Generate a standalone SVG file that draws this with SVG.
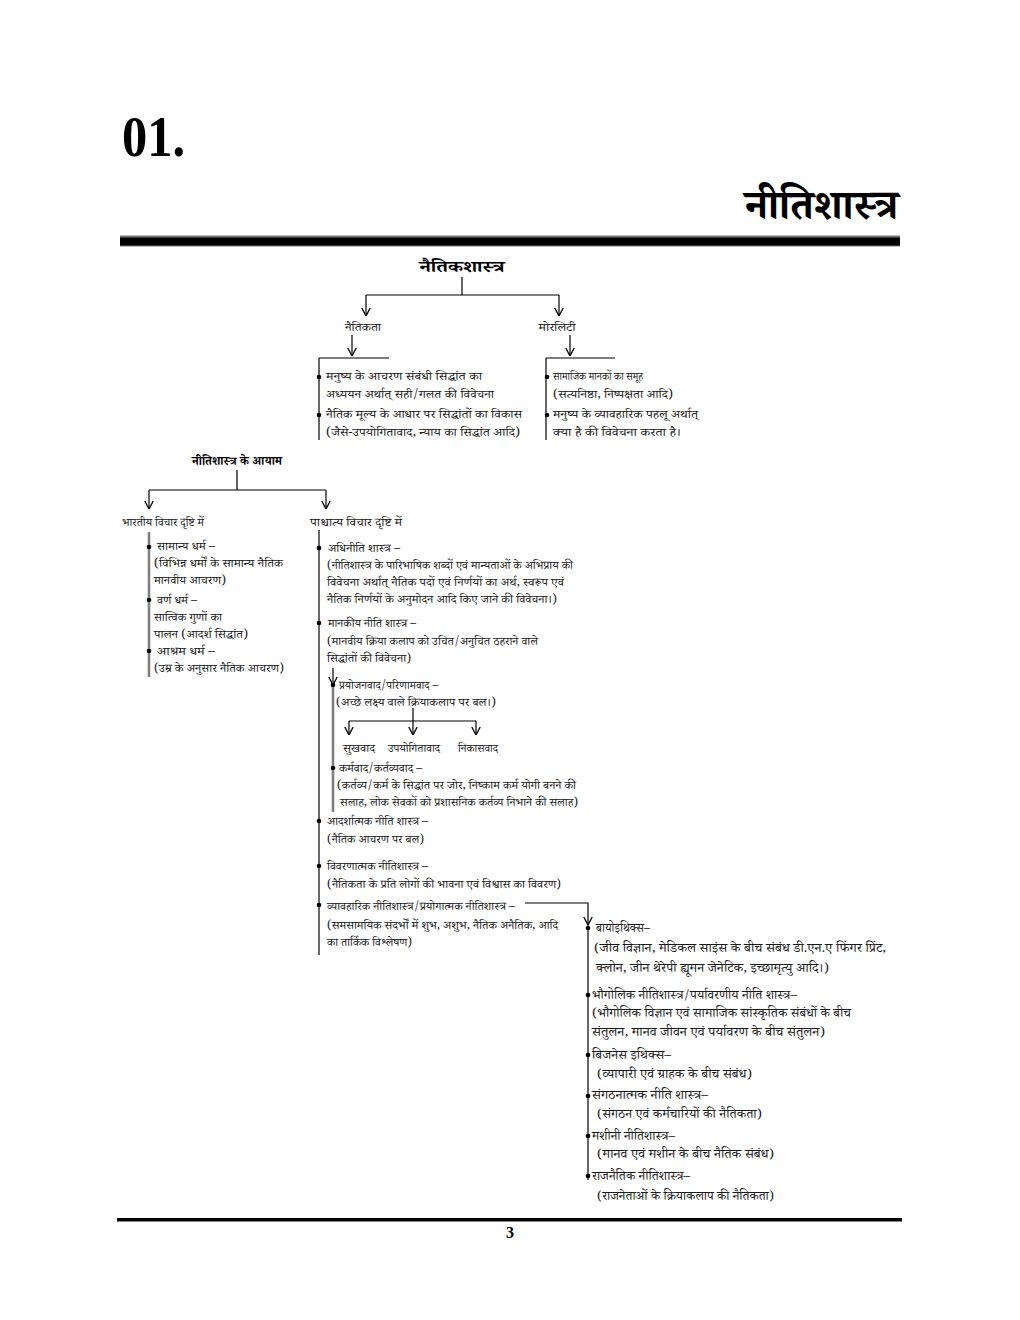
<svg xmlns="http://www.w3.org/2000/svg" width="1020" height="1320" viewBox="0 0 1020 1320">
<style>
.d{font-family:"Noto Serif Devanagari","Noto Sans Devanagari","Lohit Devanagari","Noto Sans",sans-serif;font-size:11.8px;fill:#1a1a1a}
.r{font-size:13px}
.b{font-weight:bold;fill:#000}
.c{text-anchor:middle}
.ln{stroke:#000;stroke-width:1.2;fill:none}
.gl{stroke:#808080;stroke-width:2.6;fill:none}
.bu{fill:#000}
</style>
<defs>
<marker id="ar" viewBox="0 0 10 10" refX="10" refY="5" markerWidth="10" markerHeight="10" markerUnits="userSpaceOnUse" orient="auto">
<path d="M2,0.8 L10,5 L2,9.2" fill="none" stroke="#000" stroke-width="1.3"/>
</marker>
</defs>
<rect width="1020" height="1320" fill="#fff"/>
<g id="header">
<text x="122" y="156" font-family="Liberation Serif,serif" font-weight="bold" font-size="56" textLength="63" lengthAdjust="spacingAndGlyphs">01.</text>
<text class="d b" x="898" y="219" text-anchor="end" textLength="153" lengthAdjust="spacingAndGlyphs" style="font-size:42px">नीतिशास्त्र</text>
<rect x="120" y="235.5" width="780" height="11" fill="#777"/>
<rect x="120" y="237.5" width="780" height="8" fill="#000"/>
</g>
<g id="connectors">
<path class="ln" d="M462,277 V295 M366,295 H559"/>
<path class="ln" d="M366,295 V316" marker-end="url(#ar)"/>
<path class="ln" d="M559,295 V316" marker-end="url(#ar)"/>
<path class="ln" d="M352,335 V356" marker-end="url(#ar)"/>
<path class="ln" d="M570,335 V356" marker-end="url(#ar)"/>
<path class="ln" d="M319,358 H389 M319,358 V440 M546,358 H615 M546,358 V440"/>
<path class="ln" d="M237,470 V490 M149,490 H326"/>
<path class="ln" d="M149,490 V509" marker-end="url(#ar)"/>
<path class="ln" d="M326,490 V509" marker-end="url(#ar)"/>
<path class="gl" d="M149,532 V677"/>
<path class="ln" d="M319,530 V955"/>
<path class="ln" d="M333,668 V685" marker-end="url(#ar)"/>
<path class="gl" d="M333,686 V812"/>
<path class="ln" d="M349,721 H476"/>
<path class="ln" d="M413,708 V735" marker-end="url(#ar)"/>
<path class="ln" d="M349,721 V735" marker-end="url(#ar)"/>
<path class="ln" d="M476,721 V735" marker-end="url(#ar)"/>
<path class="ln" d="M525,903 H588 V925" marker-end="url(#ar)"/>
<path class="ln" d="M588,925 V1180"/>
</g>
<g id="n-root"><text class="d b c" x="462" y="272" style="font-size:16px" textLength="85" lengthAdjust="spacingAndGlyphs">नैतिकशास्त्र</text></g>
<g id="n-naitikta"><text class="d c" x="363" y="331" textLength="36" lengthAdjust="spacingAndGlyphs">नैतिकता</text></g>
<g id="n-morality"><text class="d c" x="557" y="331" textLength="37" lengthAdjust="spacingAndGlyphs">मोरलिटी</text></g>
<g id="n-naitikta-desc">
<circle class="bu" cx="319" cy="377" r="2.3"/><circle class="bu" cx="319" cy="415" r="2.3"/>
<text class="d" x="326" y="380" textLength="156" lengthAdjust="spacingAndGlyphs">मनुष्य के आचरण संबंधी सिद्धांत का</text>
<text class="d" x="326" y="398" textLength="168" lengthAdjust="spacingAndGlyphs">अध्ययन अर्थात् सही/गलत की विवेचना</text>
<text class="d" x="326" y="418" textLength="196" lengthAdjust="spacingAndGlyphs">नैतिक मूल्य के आधार पर सिद्धांतों का विकास</text>
<text class="d" x="326" y="436" textLength="194" lengthAdjust="spacingAndGlyphs">(जैसे-उपयोगितावाद, न्याय का सिद्धांत आदि)</text>
</g>
<g id="n-morality-desc">
<circle class="bu" cx="547" cy="377" r="2.3"/><circle class="bu" cx="547" cy="415" r="2.3"/>
<text class="d" x="553" y="380" textLength="90" lengthAdjust="spacingAndGlyphs">सामाजिक मानकों का समूह</text>
<text class="d" x="553" y="398" textLength="120" lengthAdjust="spacingAndGlyphs">(सत्यनिष्ठा, निष्पक्षता आदि)</text>
<text class="d" x="553" y="418" textLength="145" lengthAdjust="spacingAndGlyphs">मनुष्य के व्यावहारिक पहलू अर्थात्</text>
<text class="d" x="553" y="436" textLength="128" lengthAdjust="spacingAndGlyphs">क्या है की विवेचना करता है।</text>
</g>
<g id="n-aayam"><text class="d b c" x="237" y="465" textLength="90" lengthAdjust="spacingAndGlyphs">नीतिशास्त्र के आयाम</text></g>
<g id="n-bhartiya">
<text class="d" x="122" y="526" textLength="82" lengthAdjust="spacingAndGlyphs">भारतीय विचार दृष्टि में</text>
<circle class="bu" cx="149" cy="547" r="2.3"/><circle class="bu" cx="149" cy="600" r="2.3"/><circle class="bu" cx="149" cy="651" r="2.3"/>
<text class="d" x="157" y="550" textLength="58" lengthAdjust="spacingAndGlyphs">सामान्य धर्म –</text>
<text class="d" x="154" y="567" textLength="129" lengthAdjust="spacingAndGlyphs">(विभिन्न धर्मों के सामान्य नैतिक</text>
<text class="d" x="154" y="584" textLength="72" lengthAdjust="spacingAndGlyphs">मानवीय आचरण)</text>
<text class="d" x="157" y="604" textLength="40" lengthAdjust="spacingAndGlyphs">वर्ण धर्म –</text>
<text class="d" x="154" y="621" textLength="68" lengthAdjust="spacingAndGlyphs">सात्विक गुणों का</text>
<text class="d" x="154" y="638" textLength="94" lengthAdjust="spacingAndGlyphs">पालन (आदर्श सिद्धांत)</text>
<text class="d" x="157" y="655" textLength="58" lengthAdjust="spacingAndGlyphs">आश्रम धर्म –</text>
<text class="d" x="154" y="672" textLength="130" lengthAdjust="spacingAndGlyphs">(उम्र के अनुसार नैतिक आचरण)</text>
</g>
<g id="n-pashchatya">
<text class="d" x="310" y="526" textLength="92" lengthAdjust="spacingAndGlyphs">पाश्चात्य विचार दृष्टि में</text>
</g>
<g id="n-adhiniti">
<circle class="bu" cx="319" cy="548" r="2.3"/>
<text class="d" x="328" y="552" textLength="72" lengthAdjust="spacingAndGlyphs">अधिनीति शास्त्र –</text>
<text class="d" x="327" y="569" textLength="246" lengthAdjust="spacingAndGlyphs">(नीतिशास्त्र के पारिभाषिक शब्दों एवं मान्यताओं के अभिप्राय की</text>
<text class="d" x="327" y="586" textLength="237" lengthAdjust="spacingAndGlyphs">विवेचना अर्थात् नैतिक पदों एवं निर्णयों का अर्थ, स्वरूप एवं</text>
<text class="d" x="327" y="603" textLength="230" lengthAdjust="spacingAndGlyphs">नैतिक निर्णयों के अनुमोदन आदि किए जाने की विवेचना।)</text>
</g>
<g id="n-maankiya">
<circle class="bu" cx="319" cy="623" r="2.3"/>
<text class="d" x="328" y="627" textLength="88" lengthAdjust="spacingAndGlyphs">मानकीय नीति शास्त्र –</text>
<text class="d" x="327" y="645" textLength="211" lengthAdjust="spacingAndGlyphs">(मानवीय क्रिया कलाप को उचित/अनुचित ठहराने वाले</text>
<text class="d" x="327" y="662" textLength="84" lengthAdjust="spacingAndGlyphs">सिद्धांतों की विवेचना)</text>
</g>
<g id="n-prayojanvad">
<circle class="bu" cx="333" cy="685" r="2.3"/>
<text class="d" x="339" y="689" textLength="99" lengthAdjust="spacingAndGlyphs">प्रयोजनवाद/परिणामवाद –</text>
<text class="d" x="336" y="706" textLength="160" lengthAdjust="spacingAndGlyphs">(अच्छे लक्ष्य वाले क्रियाकलाप पर बल।)</text>
</g>
<g id="n-sukhvad"><text class="d c" x="359" y="752" textLength="32" lengthAdjust="spacingAndGlyphs">सुखवाद</text></g>
<g id="n-upyogitavad"><text class="d c" x="414" y="752" textLength="52" lengthAdjust="spacingAndGlyphs">उपयोगितावाद</text></g>
<g id="n-nikasvad"><text class="d c" x="478" y="752" textLength="40" lengthAdjust="spacingAndGlyphs">निकासवाद</text></g>
<g id="n-karmvad">
<circle class="bu" cx="333" cy="768" r="2.3"/>
<text class="d" x="339" y="772" textLength="83" lengthAdjust="spacingAndGlyphs">कर्मवाद/कर्तव्यवाद –</text>
<text class="d" x="337" y="789" textLength="239" lengthAdjust="spacingAndGlyphs">(कर्तव्य/कर्म के सिद्धांत पर जोर, निष्काम कर्म योगी बनने की</text>
<text class="d" x="340" y="806" textLength="238" lengthAdjust="spacingAndGlyphs">सलाह, लोक सेवकों को प्रशासनिक कर्तव्य निभाने की सलाह)</text>
</g>
<g id="n-adarshatmak">
<circle class="bu" cx="319" cy="821" r="2.3"/>
<text class="d" x="327" y="825" textLength="101" lengthAdjust="spacingAndGlyphs">आदर्शात्मक नीति शास्त्र –</text>
<text class="d" x="327" y="843" textLength="97" lengthAdjust="spacingAndGlyphs">(नैतिक आचरण पर बल)</text>
</g>
<g id="n-vivarnatmak">
<circle class="bu" cx="319" cy="866" r="2.3"/>
<text class="d" x="327" y="870" textLength="101" lengthAdjust="spacingAndGlyphs">विवरणात्मक नीतिशास्त्र –</text>
<text class="d" x="327" y="888" textLength="234" lengthAdjust="spacingAndGlyphs">(नैतिकता के प्रति लोगों की भावना एवं विश्वास का विवरण)</text>
</g>
<g id="n-vyavaharik">
<circle class="bu" cx="319" cy="905" r="2.3"/>
<text class="d" x="327" y="910" textLength="188" lengthAdjust="spacingAndGlyphs">व्यावहारिक नीतिशास्त्र/प्रयोगात्मक नीतिशास्त्र –</text>
<text class="d" x="327" y="929" textLength="231" lengthAdjust="spacingAndGlyphs">(समसामयिक संदर्भों में शुभ, अशुभ, नैतिक अनैतिक, आदि</text>
<text class="d" x="327" y="946" textLength="85" lengthAdjust="spacingAndGlyphs">का तार्किक विश्लेषण)</text>
</g>
<g id="n-bioethics">
<circle class="bu" cx="588" cy="928" r="2.3"/>
<text class="d r" x="596" y="932" textLength="54" lengthAdjust="spacingAndGlyphs">बायोइथिक्स–</text>
<text class="d r" x="594" y="952" textLength="292" lengthAdjust="spacingAndGlyphs">(जीव विज्ञान, मेडिकल साइंस के बीच संबंध डी.एन.ए फिंगर प्रिंट,</text>
<text class="d r" x="596" y="972" textLength="233" lengthAdjust="spacingAndGlyphs">क्लोन, जीन थेरेपी ह्यूमन जेनेटिक, इच्छामृत्यु आदि।)</text>
</g>
<g id="n-bhaugolik">
<circle class="bu" cx="588" cy="995" r="2.3"/>
<text class="d r" x="592" y="999" textLength="205" lengthAdjust="spacingAndGlyphs">भौगोलिक नीतिशास्त्र/पर्यावरणीय नीति शास्त्र–</text>
<text class="d r" x="592" y="1017" textLength="259" lengthAdjust="spacingAndGlyphs">(भौगोलिक विज्ञान एवं सामाजिक सांस्कृतिक संबंधों के बीच</text>
<text class="d r" x="592" y="1036" textLength="233" lengthAdjust="spacingAndGlyphs">संतुलन, मानव जीवन एवं पर्यावरण के बीच संतुलन)</text>
</g>
<g id="n-business">
<circle class="bu" cx="588" cy="1055" r="2.3"/>
<text class="d r" x="592" y="1059" textLength="79" lengthAdjust="spacingAndGlyphs">बिजनेस इथिक्स–</text>
<text class="d r" x="597" y="1078" textLength="155" lengthAdjust="spacingAndGlyphs">(व्यापारी एवं ग्राहक के बीच संबंध)</text>
</g>
<g id="n-sangathan">
<circle class="bu" cx="588" cy="1096" r="2.3"/>
<text class="d r" x="592" y="1099" textLength="116" lengthAdjust="spacingAndGlyphs">संगठनात्मक नीति शास्त्र–</text>
<text class="d r" x="597" y="1118" textLength="165" lengthAdjust="spacingAndGlyphs">(संगठन एवं कर्मचारियों की नैतिकता)</text>
</g>
<g id="n-mashini">
<circle class="bu" cx="588" cy="1136" r="2.3"/>
<text class="d r" x="592" y="1140" textLength="83" lengthAdjust="spacingAndGlyphs">मशीनी नीतिशास्त्र–</text>
<text class="d r" x="597" y="1158" textLength="177" lengthAdjust="spacingAndGlyphs">(मानव एवं मशीन के बीच नैतिक संबंध)</text>
</g>
<g id="n-rajnaitik">
<circle class="bu" cx="588" cy="1176" r="2.3"/>
<text class="d r" x="592" y="1180" textLength="98" lengthAdjust="spacingAndGlyphs">राजनैतिक नीतिशास्त्र–</text>
<text class="d r" x="597" y="1200" textLength="177" lengthAdjust="spacingAndGlyphs">(राजनेताओं के क्रियाकलाप की नैतिकता)</text>
</g>
<g id="footer">
<rect x="117" y="1218" width="785" height="3.5" fill="#000"/>
<text x="510" y="1238" font-family="Liberation Serif,serif" font-weight="bold" font-size="16" text-anchor="middle">3</text>
</g>
</svg>
